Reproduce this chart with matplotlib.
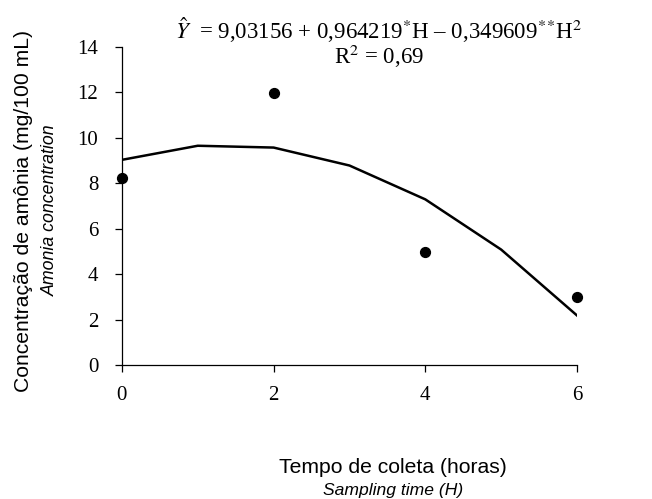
import matplotlib
matplotlib.use("Agg")
import matplotlib.pyplot as plt

hours_obs = [0, 2, 4, 6]
conc_obs = [8.23, 11.95, 4.97, 3.0]
hours_fit = [0, 1, 2, 3, 4, 5, 6]
conc_fit = [9.03, 9.65, 9.57, 8.78, 7.29, 5.08, 2.18]
xticks = [0, 2, 4, 6]
yticks = [0, 2, 4, 6, 8, 10, 12, 14]

plt.rcParams['mathtext.fontset'] = 'stix'
serif = 'Liberation Serif'
sans = 'Liberation Sans'

fig = plt.figure(figsize=(6.52, 4.99), dpi=100)
ax = fig.add_axes([0.187, 0.2685, 0.698, 0.6375])
ax.plot(hours_fit, conc_fit, color='black', lw=1.8)
ax.scatter(hours_obs, conc_obs, s=50, color='black', zorder=3, clip_on=False)
ax.set_xlim(0, 6)
ax.set_ylim(0, 14)
ax.set_xticks(xticks)
ax.set_yticks(yticks)
ax.spines['top'].set_visible(False)
ax.spines['right'].set_visible(False)
for s in ['left', 'bottom']:
    ax.spines[s].set_linewidth(0.9)
ax.tick_params(direction='out', length=5, width=0.9)
ax.tick_params(axis='y', pad=12)
ax.tick_params(axis='x', pad=10)
for lab in ax.get_xticklabels() + ax.get_yticklabels():
    lab.set_fontfamily(serif)
    lab.set_fontsize(15)

fig.text(0.581, 0.94, r"$\hat{Y}$  = 9,03156 + 0,964219$^{*}$H – 0,349609$^{*}$$^{*}$H$^{2}$",
         ha='center', va='center', fontsize=16.5, family=serif)
fig.text(0.581, 0.886, r"R$^{2}$ = 0,69", ha='center', va='center', fontsize=16.5, family=serif)

fig.text(0.603, 0.064, "Tempo de coleta (horas)", ha='center', va='center', fontsize=15.2, family=sans)
fig.text(0.603, 0.018, "Sampling time (H)", ha='center', va='center', fontsize=12.6, family=sans, style='italic')
fig.text(0.036, 0.577, "Concentração de amônia (mg/100 mL)", ha='center', va='center', rotation=90,
         fontsize=15.2, family=sans)
fig.text(0.077, 0.578, "Amonia concentration", ha='center', va='center', rotation=90,
         fontsize=12.8, family=sans, style='italic')

fig.savefig("out.png", dpi=100)
